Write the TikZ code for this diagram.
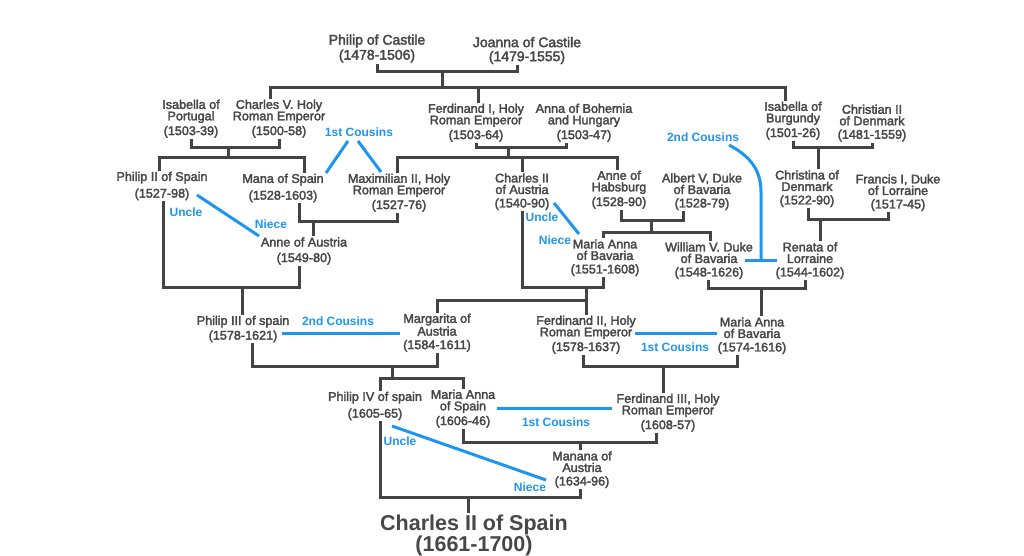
\documentclass[tikz,border=0pt]{standalone}
\usepackage{fontspec}
\newfontfamily\nf[FakeBold=2.5]{Liberation Sans}
\newfontfamily\lf{Liberation Sans}
\definecolor{txt}{HTML}{474747}
\definecolor{ln}{HTML}{444444}
\definecolor{bl}{HTML}{1E96F0}
\begin{document}
\begin{tikzpicture}[x=1pt,y=-1pt,
  person/.style={align=center,text=txt,inner sep=1pt,font=\nf\fontsize{12.6}{11.5}\selectfont},
  topp/.style={person,font=\nf\fontsize{14}{13}\selectfont},
  big/.style={align=center,text=txt,inner sep=1pt,font=\lf\bfseries\fontsize{21.5}{20}\selectfont},
  rel/.style={text=bl,font=\lf\bfseries\fontsize{12}{12}\selectfont,inner sep=0pt},
  fam/.style={draw=ln,line width=3pt,line join=miter},
  relline/.style={draw=bl,line width=3pt},
]
\useasboundingbox[fill=white] (0,0) rectangle (1024,556);

% ---- people ----
\node[topp] (phc) at (377,48.5) {Philip of Castile\\[1pt](1478-1506)};
\node[topp] (joc) at (527,50.5) {Joanna of Castile\\[1pt](1479-1555)};

\node[person] (isaP) at (191,118.7) {Isabella of\\Portugal\\[2pt](1503-39)};
\node[person] (charV) at (279,118.7) {Charles V. Holy\\Roman Emperor\\[2pt](1500-58)};
\node[person] (ferd1) at (476,122.7) {Ferdinand I, Holy\\Roman Emperor\\[2pt](1503-64)};
\node[person] (anna) at (584,122.7) {Anna of Bohemia\\and Hungary\\[2pt](1503-47)};
\node[person] (isaB) at (793,120.7) {Isabella of\\Burgundy\\[2pt](1501-26)};
\node[person] (chr2) at (872,123) {Christian II\\of Denmark\\[2pt](1481-1559)};

\node[person] (phil2) at (162,186) {Philip II of Spain\\[4pt](1527-98)};
\node[person] (mana) at (283,188) {Mana of Spain\\[4pt](1528-1603)};
\node[person] (max2) at (399,192.7) {Maximilian II, Holy\\Roman Emperor\\[2pt](1527-76)};
\node[person] (char2a) at (522,191.7) {Charles II\\of Austria\\[2pt](1540-90)};
\node[person] (anneH) at (619,189.7) {Anne of\\Habsburg\\[2pt](1528-90)};
\node[person] (alb5) at (702,191.7) {Albert V, Duke\\of Bavaria\\[2pt](1528-79)};
\node[person] (chrD) at (807,188.7) {Christina of\\Denmark\\[2pt](1522-90)};
\node[person] (fra1) at (898,192.7) {Francis I, Duke\\of Lorraine\\[2pt](1517-45)};

\node[person] (anneA) at (304,251) {Anne of Austria\\[4pt](1549-80)};
\node[person] (maB) at (605,257.7) {Maria Anna\\of Bavaria\\[2pt](1551-1608)};
\node[person] (wil5) at (709,260.7) {William V. Duke\\of Bavaria\\[2pt](1548-1626)};
\node[person] (ren) at (810,260.7) {Renata of\\Lorraine\\[2pt](1544-1602)};

\node[person] (phil3) at (243,329) {Philip III of spain\\[2pt](1578-1621)};
\node[person] (marg) at (437,332.7) {Margarita of\\Austria\\[2pt](1584-1611)};
\node[person] (ferd2) at (586,334.7) {Ferdinand II, Holy\\Roman Emperor\\[2pt](1578-1637)};
\node[person] (maB2) at (752,335.7) {Maria Anna\\of Bavaria\\[2pt](1574-1616)};

\node[person] (phil4) at (375,406) {Philip IV of spain\\[4pt](1605-65)};
\node[person] (maS) at (463,408.7) {Maria Anna\\of Spain\\[2pt](1606-46)};
\node[person] (ferd3) at (668,412.7) {Ferdinand III, Holy\\Roman Emperor\\[2pt](1608-57)};
\node[person] (manana) at (582,469.7) {Manana of\\Austria\\[2pt](1634-96)};

\node[big] (char2s) at (474,535) {Charles II of Spain\\(1661-1700)};

% ---- family connectors ----
\coordinate (J0) at (442,72);
\coordinate (K0) at (442,88);
\draw[fam] (phc.south) |- (J0) -| ([xshift=-10pt]joc.south);
\draw[fam] (J0) -- (K0);
\draw[fam] ([xshift=-9pt]charV.north) |- (K0) -| ([xshift=-8pt]isaB.north);
\coordinate (f1n) at ([xshift=2pt]ferd1.north);
\draw[fam] (f1n) -- (f1n |- K0);

\coordinate (J1) at (228,148);
\coordinate (K1) at (228,158);
\draw[fam] (isaP.south) |- (J1) -| (charV.south);
\draw[fam] (J1) -- (K1);
\draw[fam] ([xshift=-3pt]phil2.north) |- (K1) -| ([xshift=21pt]mana.north);

\coordinate (J2) at (508,148);
\coordinate (K2) at (508,158);
\draw[fam] (ferd1.south) |- (J2) -| ([xshift=-18pt]anna.south);
\draw[fam] (J2) -- (K2);
\draw[fam] ([xshift=-2pt]max2.north) |- (K2) -| ([xshift=-2pt]anneH.north);
\draw[fam] (char2a.north) -- (char2a.north |- K2);

\coordinate (J3) at (818,148);
\draw[fam] (isaB.south) |- (J3) -| (chr2.south);
\draw[fam] (J3) -- (J3 |- chrD.north);

\coordinate (J4) at (242,287);
\draw[fam] ([xshift=1pt]phil2.south) |- (J4) -| ([xshift=-5pt]anneA.south);
\draw[fam] (J4) -- (J4 |- phil3.north);

\coordinate (J5) at (313,221);
\draw[fam] ([xshift=16pt]mana.south) |- (J5) -| ([xshift=-2pt]max2.south);
\draw[fam] (J5) -- (J5 |- anneA.north);

\coordinate (J6) at (651,220);
\coordinate (K6) at (651,232);
\draw[fam] ([xshift=2pt]anneH.south) |- (J6) -| ([xshift=-19pt]alb5.south);
\draw[fam] (J6) -- (K6);
\draw[fam] ([xshift=-2pt]maB.north) |- (K6) -| ([xshift=1pt]wil5.north);

\coordinate (J7) at (820,219);
\draw[fam] ([xshift=1pt]chrD.south) |- (J7) -| ([xshift=-10pt]fra1.south);
\draw[fam] (J7) -- (J7 |- ren.north);

\coordinate (J8) at (586,287);
\coordinate (K8) at (586,300);
\draw[fam] (char2a.south) |- (J8) -| ([xshift=-2pt]maB.south);
\draw[fam] (J8) -- (J8 |- ferd2.north);
\draw[fam] (K8) -| (marg.north);

\coordinate (J9) at (761,288);
\draw[fam] ([xshift=-1pt]wil5.south) |- (J9) -| ([xshift=-5pt]ren.south);
\draw[fam] (J9) -- (J9 |- maB2.north);

\coordinate (J10) at (392,366);
\coordinate (K10) at (392,378);
\draw[fam] ([xshift=9pt]phil3.south) |- (J10) -| (marg.south);
\draw[fam] (J10) -- (K10);
\draw[fam] ([xshift=5pt]phil4.north) |- (K10) -| (maS.north);

\coordinate (J11) at (663,366);
\draw[fam] ([xshift=-3pt]ferd2.south) |- (J11) -| ([xshift=-15pt]maB2.south);
\draw[fam] (J11) -- (J11 |- ferd3.north);

\coordinate (J12) at (580,442);
\draw[fam] (maS.south) |- (J12) -| ([xshift=-12pt]ferd3.south);
\draw[fam] (J12) -- (J12 |- manana.north);

\coordinate (J13) at (468,497);
\draw[fam] ([xshift=5pt]phil4.south) |- (J13) -| ([xshift=-2pt]manana.south);
\draw[fam] (J13) -- (J13 |- char2s.north);

% ---- relation labels ----
\node[rel] (c1) at (359,132) {1st Cousins};
\node[rel] (u1) at (186,212) {Uncle};
\node[rel] (n1) at (271,224) {Niece};
\node[rel] (u2) at (542,217) {Uncle};
\node[rel] (n2) at (555,240) {Niece};
\node[rel] (c2) at (703,137) {2nd Cousins};
\node[rel] (c3) at (338,321) {2nd Cousins};
\node[rel] (c4) at (675,347) {1st Cousins};
\node[rel] (c5) at (556,422) {1st Cousins};
\node[rel] (u3) at (400,441) {Uncle};
\node[rel] (n3) at (530,487) {Niece};

% ---- relation lines ----
\draw[relline] (348,141) -- (326,173);
\draw[relline] (358,141) -- (381,172);
\draw[relline] (197,195) -- (259,236);
\draw[relline] (554,203) -- (579,234);
\draw[relline] (729,145) .. controls (752,157) and (761,172) .. (761,192) -- (761,260);
\draw[relline] (745,260) -- (777,260);
\draw[relline] (282,333) -- (400,333);
\draw[relline] (635,333) -- (717,333);
\draw[relline] (497,408) -- (612,408);
\draw[relline] (392,426) -- (546,480);
\end{tikzpicture}
\end{document}
